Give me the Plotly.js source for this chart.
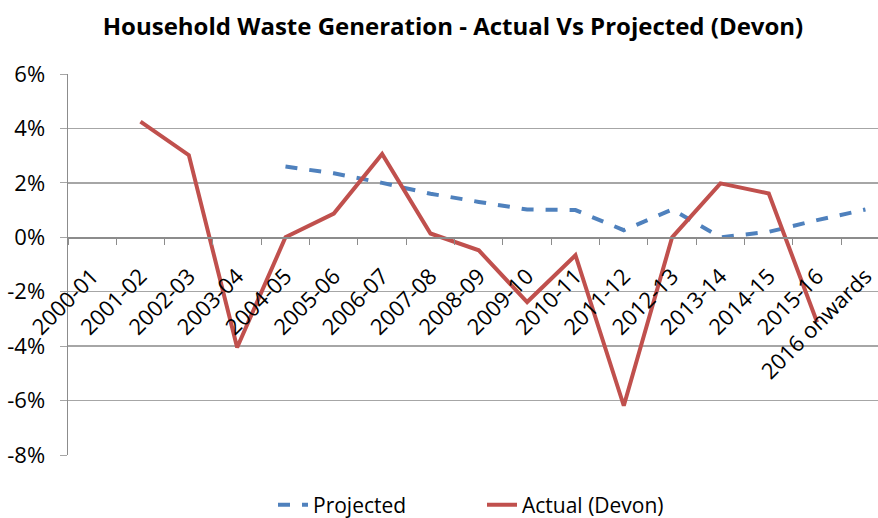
<!DOCTYPE html>
<html>
<head>
<meta charset="utf-8">
<script src="https://cdn.plot.ly/plotly-3.0.1.min.js"></script>
<style>html,body{margin:0;padding:0;background:#fff;}#chart{width:878px;height:518px;}</style>
</head>
<body>
<div id="chart"></div>
<script>
const categories = ["2000-01","2001-02","2002-03","2003-04","2004-05","2005-06","2006-07","2007-08","2008-09","2009-10","2010-11","2011-12","2012-13","2013-14","2014-15","2015-16","2016 onwards"];
const projected = [null,null,null,null,2.6,2.35,2.0,1.6,1.3,1.02,1.0,0.26,1.02,0.0,0.2,0.63,1.02];
const actual = [null,4.25,3.02,-4.05,0.0,0.87,3.06,0.14,-0.48,-2.38,-0.66,-6.19,0.0,1.98,1.61,-3.12,null];
const yTickVals = [-8,-6,-4,-2,0,2,4,6];
const yTickText = ["-8%","-6%","-4%","-2%","0%","2%","4%","6%"];

const font = "'Open Sans', 'Noto Sans', sans-serif";
const traces = [
  {x: categories, y: projected, name: "Projected", type: "scatter", mode: "lines",
   line: {color: "#4F81BD", width: 4, dash: "dash"}, connectgaps: false},
  {x: categories, y: actual, name: "Actual (Devon)", type: "scatter", mode: "lines",
   line: {color: "#C0504D", width: 4}, connectgaps: false}
];
const layout = {
  width: 878, height: 518,
  margin: {l: 68, r: 0, t: 74, b: 63},
  paper_bgcolor: "#fff", plot_bgcolor: "#fff",
  font: {family: font, size: 22, color: "#000"},
  title: {text: "<b>Household Waste Generation - Actual Vs Projected (Devon)</b>",
          font: {family: font, size: 24, color: "#000"}, x: 453/878, xanchor: "center", y: 1 - 27/518, yanchor: "middle"},
  showlegend: true,
  legend: {orientation: "h", xref: "container", yref: "container", x: 273/878, xanchor: "left",
           y: 13/518, yanchor: "middle", entrywidth: 164, entrywidthmode: "pixels",
           font: {family: font, size: 21, color: "#000"}, traceorder: "normal"},
  xaxis: {type: "category", range: [-0.5, 16.26], anchor: "free", position: 8/14,
          showline: true, linecolor: "#8C8C8C", linewidth: 1.5, showgrid: false, zeroline: false,
          ticks: "outside", ticklen: 6, tickcolor: "#8C8C8C", tickson: "boundaries",
          ticklabelstandoff: 16, ticklabelshift: 0,
          tickangle: -45, tickfont: {family: font, size: 22, color: "#000"}},
  yaxis: {range: [-8, 6], tickvals: yTickVals, ticktext: yTickText,
          showline: true, linecolor: "#8C8C8C", linewidth: 1.5, showgrid: true, gridcolor: "#A6A6A6", gridwidth: 1.5,
          zeroline: false, ticks: "outside", ticklen: 7, tickcolor: "#A6A6A6", ticklabelstandoff: 10,
          tickfont: {family: font, size: 22, color: "#000"}}
};
Plotly.newPlot("chart", traces, layout, {displayModeBar: false, staticPlot: true});
</script>
</body>
</html>
